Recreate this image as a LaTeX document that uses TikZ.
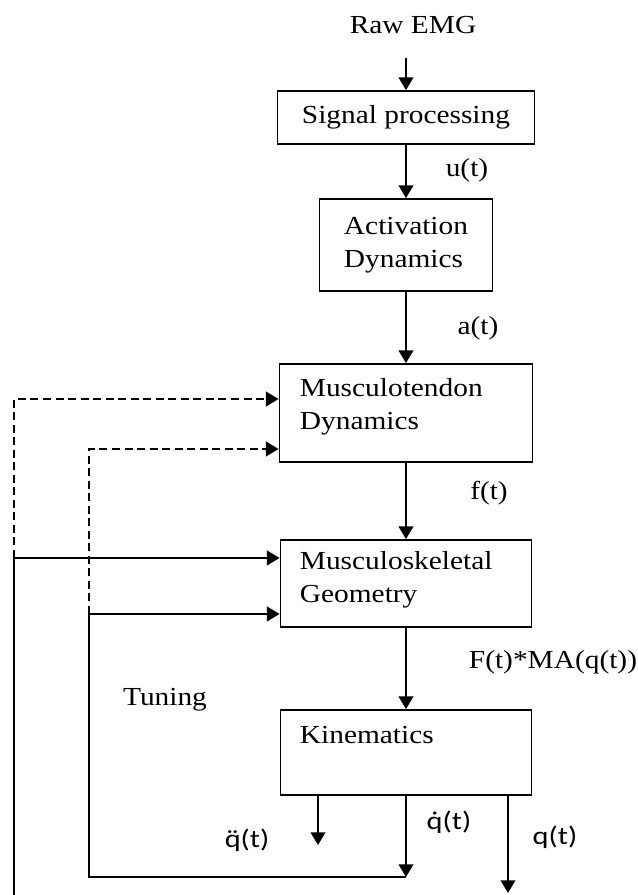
\documentclass[tikz,border=0pt]{standalone}
\usepackage{fontspec}
\setmainfont{Liberation Serif}[FakeStretch=1.13]
\newfontfamily\labelsans{Carlito}[FakeStretch=1.2]
\usetikzlibrary{arrows.meta}
\begin{document}
\begin{tikzpicture}[x=0.75pt,y=-0.75pt,
  line width=1.4pt,
  every node/.style={font=\fontsize{19.5}{24.75}\selectfont},
  box/.style={draw, line width=1.4pt, inner sep=0pt},
  txt/.style={align=left, inner sep=0pt},
  arr/.style={-{Triangle[length=9.5pt,width=11pt]}},
  dsh/.style={dash pattern=on 6pt off 3.4pt},
  qlab/.style={font=\labelsans\fontsize{19}{22}\selectfont, inner sep=0pt}]

\useasboundingbox (0,0) rectangle (637,895);

% processing chain
\node[box, minimum width=192.75pt, minimum height=39.75pt] (sp) at (406,117.5) {Signal processing};
\node[box, minimum width=129.75pt, minimum height=69pt, align=left] (act) at (406,245) {Activation\\Dynamics};
\node[box, minimum width=189.75pt, minimum height=73.5pt] (mtd) at (406,413) {};
\node[box, minimum width=188.25pt, minimum height=65.25pt] (msg) at (406,583.5) {};
\node[box, minimum width=188.25pt, minimum height=63.75pt] (kin) at (406,752.5) {};

% box texts set flush left near the top
\node[txt, anchor=west] (mtdtxt) at (299,406.5) {Musculotendon\\Dynamics};
\node[txt, anchor=west] (msgtxt) at (299,580) {Musculoskeletal\\Geometry};
\node[txt, anchor=west] (kintxt) at (299,735) {Kinematics};

% signal labels
\node (raw) at (413,25) {Raw EMG};
\node (ulab) at (467,170) {u(t)};
\node (alab) at (478,328) {a(t)};
\node (flab) at (489,493) {f(t)};
\node (Flab) at (553,662) {F(t)*MA(q(t))};
\node (tun) at (165,700) {Tuning};
\node[qlab] (qdd) at (247,840) {{\accent"A8 q}(t)};
\node[qlab] (qd) at (449,822) {{\accent"02D9 q}(t)};
\node[qlab] (q) at (555,837) {q(t)};

% forward arrows
\coordinate (rawend) at (406,58);
\draw[arr] (rawend) -- (sp.north);
\draw[arr] (sp.south) -- (act.north);
\draw[arr] (act.south) -- (mtd.north);
\draw[arr] (mtd.south) -- (msg.north);
\draw[arr] (msg.south) -- (kin.north);

% kinematic outputs
\coordinate (qddend) at (318,845);
\draw[arr] (kin.south -| qddend) -- (qddend);
\coordinate (qdend) at (406,877);
\draw[arr] (kin.south) -- (qdend);
\coordinate (qend) at (508,893);
\draw[arr] (kin.south -| qend) -- (qend);

% feedback / tuning loops
\coordinate (Lbot) at (14,895);
\coordinate (Lmid) at (14,558);
\coordinate (Ltop) at (14,399);
\coordinate (Rbot) at (89,877);
\coordinate (Rmid) at (89,614);
\coordinate (Rtop) at (89,449);
\draw[arr] (Lbot) -- (Lmid) -- (Lmid -| msg.west);
\draw[arr, dsh] (Lmid) -- (Ltop) -- (Ltop -| mtd.west);
\draw[arr] (qdend) -- (Rbot) -- (Rmid) -- (Rmid -| msg.west);
\draw[arr, dsh] (Rmid) -- (Rtop) -- (Rtop -| mtd.west);
\end{tikzpicture}
\end{document}
